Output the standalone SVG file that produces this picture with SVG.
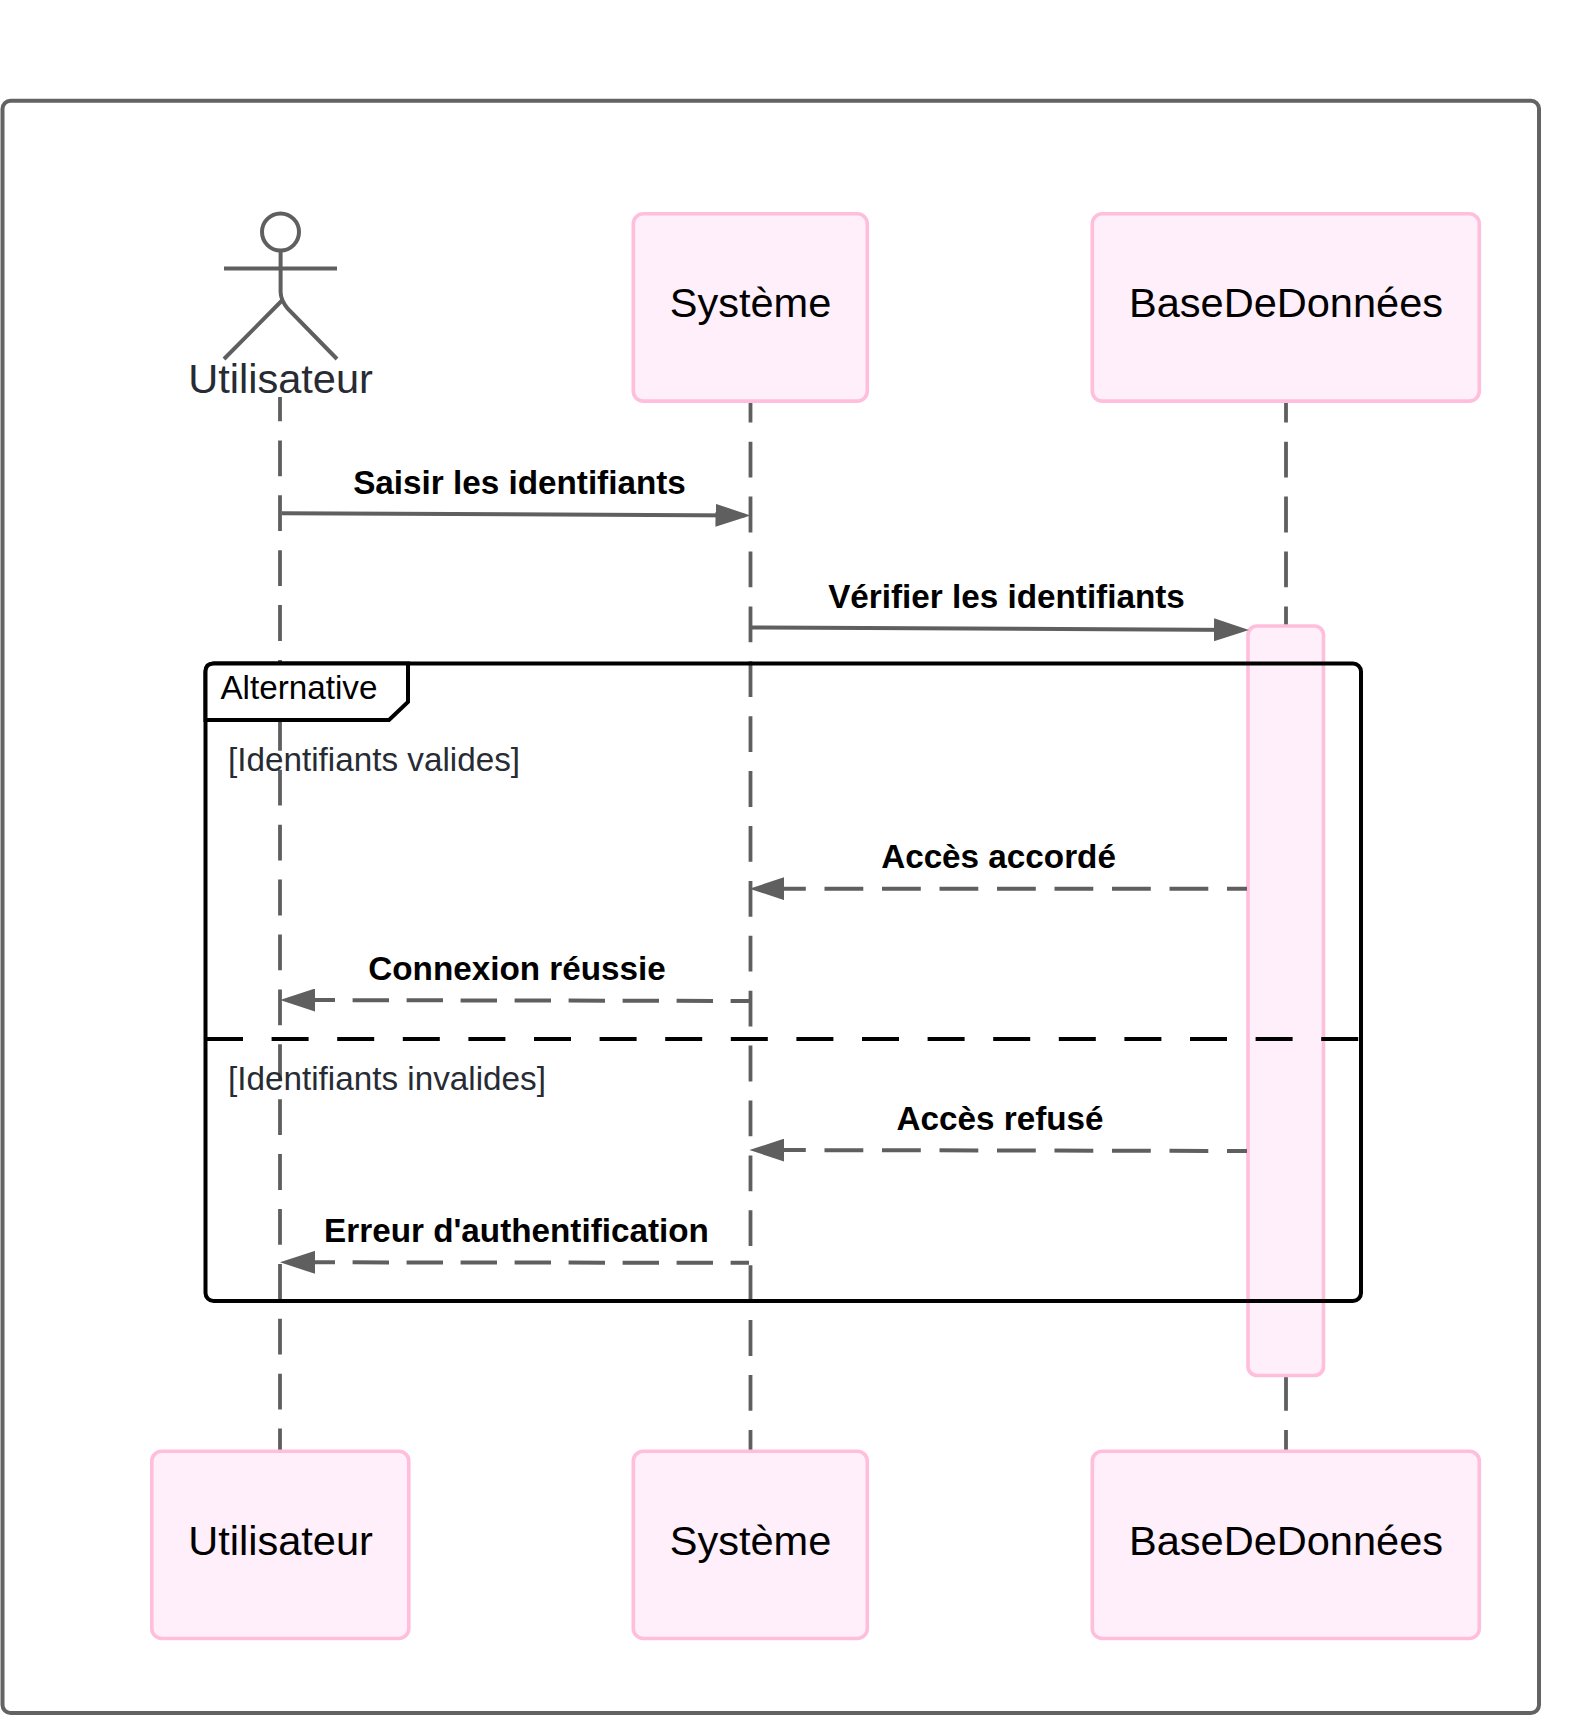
<svg xmlns="http://www.w3.org/2000/svg" width="1569" height="1716" viewBox="0 0 1569 1716">
<style>
text{font-family:"Liberation Sans",Arial,sans-serif}
.box{fill:#feeffa;stroke:#ffbfdc;stroke-width:3.6}
.nm{font-size:41.55px;fill:#000;text-anchor:middle}
.life{stroke:#5f5f5f;stroke-width:3.8;fill:none;stroke-dasharray:35.8 19.1}
.msg{stroke:#5f5f5f;stroke-width:4;fill:none;marker-end:url(#head)}
.lbl{font-size:33.25px;font-weight:700;fill:#000;text-anchor:middle}
.guard{font-size:33.25px;fill:#272b33}
.frame{fill:none;stroke:#000;stroke-width:4}
</style>
<defs>
<marker id="head" markerUnits="userSpaceOnUse" viewBox="0 0 35 23" refX="29" refY="11.5" markerWidth="35" markerHeight="23" orient="auto"><path d="M0 0L35 11.5L0 23Z" fill="#5f5f5f"/></marker>
</defs>
<rect x="2.5" y="100.7" width="1536.5" height="1612.3" rx="8" fill="#fff" stroke="#636363" stroke-width="4"/>
<g id="lifelines">
<line class="life" x1="280" y1="397" x2="280" y2="1451" stroke-dashoffset="11.5"/>
<line class="life" x1="750.5" y1="386.8" x2="750.5" y2="1451"/>
<line class="life" x1="1286" y1="386.8" x2="1286" y2="1451"/>
</g>
<g id="activation"><rect class="box" x="1248" y="626" width="75.5" height="749.5" rx="9"/></g>
<g id="alt-frame">
<rect class="frame" x="205.5" y="663.5" width="1155.5" height="637.5" rx="8"/>
<path d="M205.5 720V671.5Q205.5 663.5 213.5 663.5H408V702L389 720Z" fill="#fff" stroke="#000" stroke-width="4"/>
<line x1="206" y1="1039" x2="1360" y2="1039" stroke="#000" stroke-width="4" stroke-dasharray="37 28.6"/>
<text x="220.4" y="699.3" font-size="33.25" fill="#000">Alternative</text>
<text class="guard" x="228" y="770.7">[Identifiants valides]</text>
<text class="guard" x="228" y="1089.7">[Identifiants invalides]</text>
</g>
<g id="connectors">
<line class="msg" x1="282" y1="513.3" x2="744.5" y2="515.4"/>
<text class="lbl" x="519.5" y="493.5">Saisir les identifiants</text>
<line class="msg" x1="751" y1="627.4" x2="1243" y2="630"/>
<text class="lbl" x="1006.5" y="608">Vérifier les identifiants</text>
<line class="msg" x1="1247" y1="888.7" x2="755.4" y2="888.7" stroke-dasharray="38.8 18.7" stroke-dashoffset="18.8"/>
<text class="lbl" x="998.5" y="867.7">Accès accordé</text>
<line class="msg" x1="749" y1="1001" x2="286" y2="1000" stroke-dasharray="36.4 17.6" stroke-dashoffset="18"/>
<text class="lbl" x="517" y="979.7">Connexion réussie</text>
<line class="msg" x1="1247" y1="1151" x2="755.4" y2="1150" stroke-dasharray="38.8 18.7" stroke-dashoffset="18.8"/>
<text class="lbl" x="1000" y="1129.7">Accès refusé</text>
<line class="msg" x1="749" y1="1262.8" x2="286" y2="1262.3" stroke-dasharray="36.4 17.6" stroke-dashoffset="18"/>
<text class="lbl" x="516.5" y="1241.5">Erreur d'authentification</text>
</g>
<g id="actor-utilisateur">
<g fill="none" stroke="#5f5f5f" stroke-width="4">
<circle cx="280.5" cy="232" r="18.5"/>
<path d="M224 268.5H337M280.6 251V292Q280.6 300 288 309L337 359M281.5 301L224 359"/>
</g>
<text class="nm" x="280.5" y="393" style="fill:#272b33">Utilisateur</text>
</g>
<g id="node-systeme-top"><rect class="box" x="633.3" y="213.8" width="234" height="187.3" rx="10"/><text class="nm" x="750.5" y="317.4">Système</text></g>
<g id="node-bdd-top"><rect class="box" x="1092.3" y="213.8" width="387" height="187.3" rx="10"/><text class="nm" x="1286" y="317.4">BaseDeDonnées</text></g>
<g id="node-utilisateur-bottom"><rect class="box" x="151.8" y="1451.2" width="257" height="187.3" rx="10"/><text class="nm" x="280.5" y="1555.4">Utilisateur</text></g>
<g id="node-systeme-bottom"><rect class="box" x="633.3" y="1451.2" width="234" height="187.3" rx="10"/><text class="nm" x="750.5" y="1555.4">Système</text></g>
<g id="node-bdd-bottom"><rect class="box" x="1092.3" y="1451.2" width="387" height="187.3" rx="10"/><text class="nm" x="1286" y="1555.4">BaseDeDonnées</text></g>
</svg>
